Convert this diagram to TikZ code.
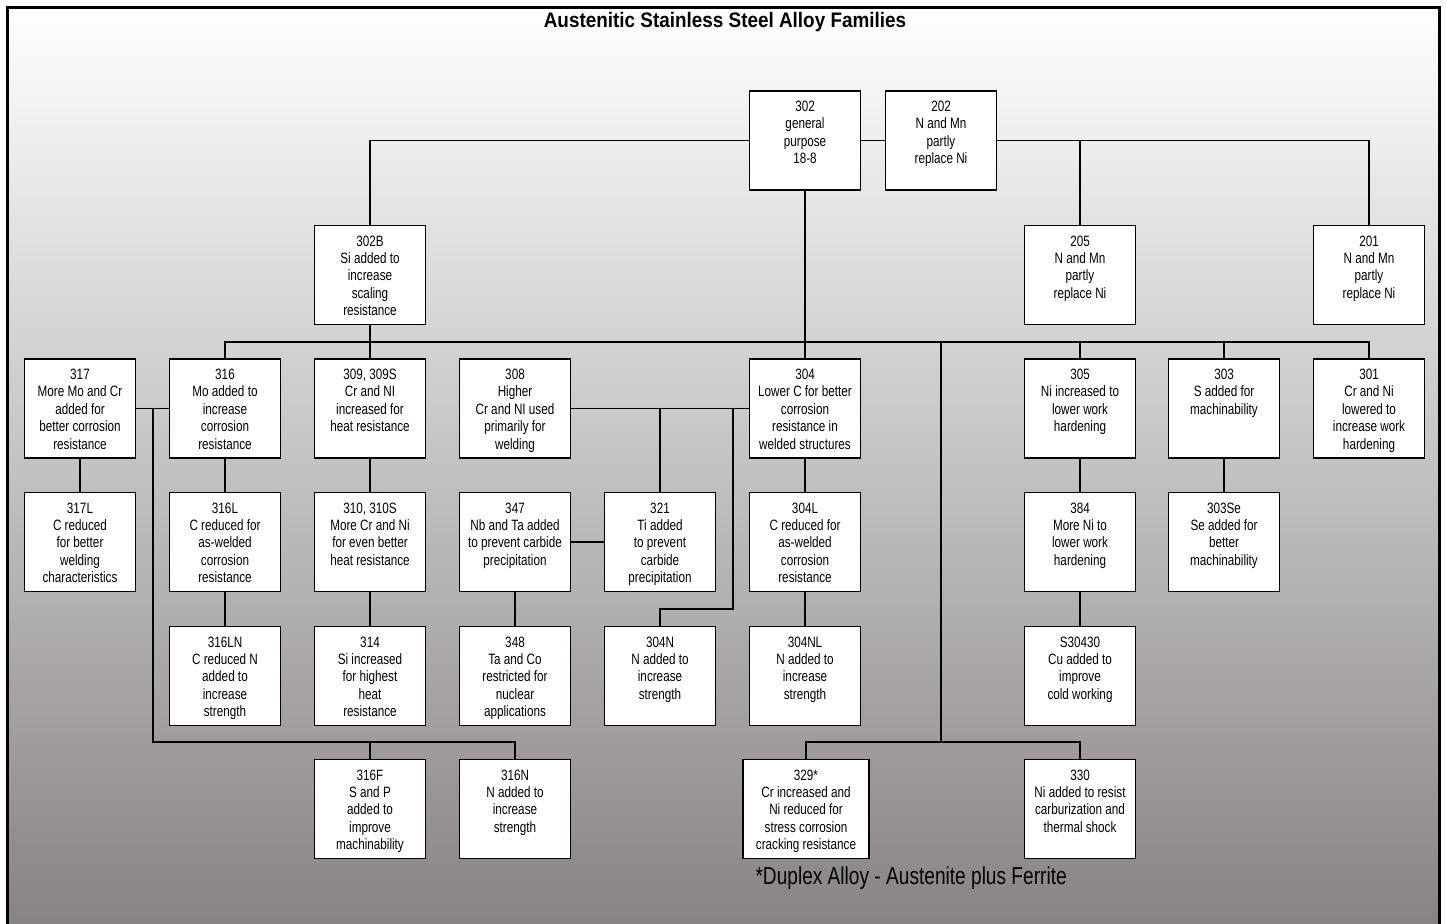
\documentclass[tikz,border=0pt]{standalone}
\usepackage{fontspec}
\setmainfont{Liberation Sans}[FakeStretch=0.78]
\newfontfamily\headfont{Liberation Sans}[FakeStretch=0.9]
\usetikzlibrary{calc, positioning}

\definecolor{framegray}{RGB}{135,130,130}
\definecolor{midgray}{RGB}{206,204,204}
\newcommand{\alloytext}[2][107pt]{\parbox[c][99pt][t]{#1}{\centering\rule{0pt}{20.5pt}#2}}

\begin{document}
\begin{tikzpicture}[x=1pt, y=-1pt,
    alloy/.style={draw, fill=white, line width=1.9pt, inner sep=0pt, minimum width=111pt, minimum height=99pt, font=\fontsize{15}{17.4}\selectfont},
    link/.style={line width=1.9pt}]
    \useasboundingbox (0,0) rectangle (1447,923);
    \shade[top color=white, middle color=midgray, bottom color=framegray] (7.5,7.5) rectangle (1439.5,935);
    \draw[line width=3pt] (7.5,7.5) rectangle (1439.5,935);

    \node[] (title) at (725, 22) {\headfont\bfseries\fontsize{21}{24}\selectfont Austenitic Stainless Steel Alloy Families};

    % top rows
    \node[alloy] (a302) at (805, 140.5) {\alloytext{302\\general\\purpose\\18-8}};
    \node[alloy] (a202) at (941, 140.5) {\alloytext{202\\N and Mn\\partly\\replace Ni}};
    \node[alloy] (a302B) at (370, 275) {\alloytext{302B\\Si added to\\increase\\scaling\\resistance}};
    \node[alloy] (a205) at (1080, 275) {\alloytext{205\\N and Mn\\partly\\replace Ni}};
    \node[alloy] (a201) at (1369, 275) {\alloytext{201\\N and Mn\\partly\\replace Ni}};

    % main row
    \node[alloy] (a317) at (80, 408.5) {\alloytext{317\\More Mo and Cr\\added for\\better corrosion\\resistance}};
    \node[alloy] (a316) at (225, 408.5) {\alloytext{316\\Mo added to\\increase\\corrosion\\resistance}};
    \node[alloy] (a309) at (370, 408.5) {\alloytext{309, 309S\\Cr and NI\\increased for\\heat resistance}};
    \node[alloy] (a308) at (515, 408.5) {\alloytext{308\\Higher\\Cr and NI used\\primarily for\\welding}};
    \node[alloy] (a304) at (805, 408.5) {\alloytext{304\\Lower C for better\\corrosion\\resistance in\\welded structures}};
    \node[alloy] (a305) at (1080, 408.5) {\alloytext{305\\Ni increased to\\lower work\\hardening}};
    \node[alloy] (a303) at (1224, 408.5) {\alloytext{303\\S added for\\machinability}};
    \node[alloy] (a301) at (1369, 408.5) {\alloytext{301\\Cr and Ni\\lowered to\\increase work\\hardening}};

    % second row
    \node[alloy] (a317L) at (80, 542) {\alloytext{317L\\C reduced\\for better\\welding\\characteristics}};
    \node[alloy] (a316L) at (225, 542) {\alloytext{316L\\C reduced for\\as-welded\\corrosion\\resistance}};
    \node[alloy] (a310) at (370, 542) {\alloytext{310, 310S\\More Cr and Ni\\for even better\\heat resistance}};
    \node[alloy] (a347) at (515, 542) {\alloytext{347\\Nb and Ta added\\to prevent carbide\\precipitation}};
    \node[alloy] (a321) at (660, 542) {\alloytext{321\\Ti added\\to prevent\\carbide\\precipitation}};
    \node[alloy] (a304L) at (805, 542) {\alloytext{304L\\C reduced for\\as-welded\\corrosion\\resistance}};
    \node[alloy] (a384) at (1080, 542) {\alloytext{384\\More Ni to\\lower work\\hardening}};
    \node[alloy] (a303Se) at (1224, 542) {\alloytext{303Se\\Se added for\\better\\machinability}};

    % third row
    \node[alloy] (a316LN) at (225, 676) {\alloytext{316LN\\C reduced N\\added to\\increase\\strength}};
    \node[alloy] (a314) at (370, 676) {\alloytext{314\\Si increased\\for highest\\heat\\resistance}};
    \node[alloy] (a348) at (515, 676) {\alloytext{348\\Ta and Co\\restricted for\\nuclear\\applications}};
    \node[alloy] (a304N) at (660, 676) {\alloytext{304N\\N added to\\increase\\strength}};
    \node[alloy] (a304NL) at (805, 676) {\alloytext{304NL\\N added to\\increase\\strength}};
    \node[alloy] (aS30430) at (1080, 676) {\alloytext{S30430\\Cu added to\\improve\\cold working}};

    % bottom row
    \node[alloy] (a316F) at (370, 809) {\alloytext{316F\\S and P\\added to\\improve\\machinability}};
    \node[alloy] (a316N) at (515, 809) {\alloytext{316N\\N added to\\increase\\strength}};
    \node[alloy, minimum width=126pt] (a329) at (806, 809) {\alloytext[122pt]{329*\\Cr increased and\\Ni reduced for\\stress corrosion\\cracking resistance}};
    \node[alloy] (a330) at (1080, 809) {\alloytext{330\\Ni added to resist\\carburization and\\thermal shock}};

    \node[anchor=west] (note) at (752, 878) {\fontsize{24.5}{28}\selectfont *Duplex Alloy - Austenite plus Ferrite};

    \coordinate (mainbus) at (805, 342);
    \coordinate (dup) at (941, 742);
    \coordinate (c316) at (153, 742);
    \coordinate (c304N) at (733, 609);

    \draw[link]
    (a302.west) -| (a302B.north)
    (a302.east) -- (a202.west)
    (a202.east) -| (a205.north)
    (a202.east) -| (a201.north)
    (a302.south) -- (a304.north)
    (a316.north) |- (mainbus) -| (a301.north)
    (a302B.south) -- (a309.north)
    (a305.north) -- (a305.north |- mainbus)
    (a303.north) -- (a303.north |- mainbus)
    (dup |- mainbus) -- (dup)
    (a329.north) |- (dup) -| (a330.north)
    (a317.east) -- (a316.west)
    (a317.east -| c316) -- (c316) -| (a316N.north)
    (a316F.north) -- (a316F.north |- c316)
    (a308.east) -- (a304.west)
    (a321.north) -- (a321.north |- a308.east)
    (a304.west -| c304N) -- (c304N) -| (a304N.north)
    (a347.east) -- (a321.west);
    \foreach \a/\b in {a317/a317L, a316/a316L, a316L/a316LN, a309/a310, a310/a314, a347/a348,
        a304/a304L, a304L/a304NL, a305/a384, a384/aS30430, a303/a303Se} {
        \draw[link] (\a.south) -- (\b.north);
    }
\end{tikzpicture}
\end{document}
